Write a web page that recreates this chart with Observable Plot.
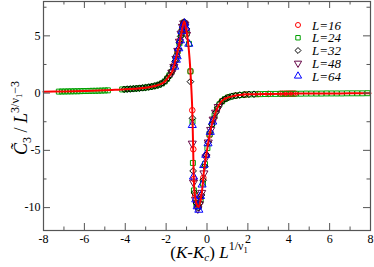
<!DOCTYPE html>
<html><head><meta charset="utf-8">
<script src="https://cdn.jsdelivr.net/npm/d3@7"></script>
<script src="https://cdn.jsdelivr.net/npm/@observablehq/plot@0.6"></script>
<style>body{margin:0;background:#fff}</style>
</head><body><div id="chart"></div>
<script>
// ---- tick values ----
const xTicks = [-8,-6,-4,-2,0,2,4,6,8];
const xMinor = [-7,-5,-3,-1,1,3,5,7];
const yTicks = [-10,-5,0,5];
const yMinor = [-7.5,-2.5,2.5,7.5];

// ---- series labels ----
const seriesLabels = ["L=16","L=24","L=32","L=48","L=64"];

// ---- fit curve (red line) ----
const fit = [[-8,0.11],[-7,0.15],[-6,0.19],[-5,0.25],[-4.5,0.29],[-4,0.33],[-3.5,0.39],[-3,0.47],[-2.75,0.55],[-2.5,0.64],[-2.25,0.8],[-2.1,0.95],[-1.95,1.25],[-1.85,1.5],[-1.75,1.72],[-1.7,1.9],[-1.6,2.45],[-1.54,2.9],[-1.46,3.5],[-1.38,4.1],[-1.3,4.8],[-1.24,5.35],[-1.18,5.9],[-1.13,6.25],[-1.08,6.1],[-1.02,5.6],[-0.97,5.0],[-0.89,3.8],[-0.81,1.9],[-0.76,0.2],[-0.72,-1.5],[-0.68,-4.5],[-0.65,-7.3],[-0.6,-8.8],[-0.54,-9.5],[-0.47,-9.85],[-0.42,-9.95],[-0.36,-9.7],[-0.3,-9.2],[-0.24,-8.5],[-0.16,-7.0],[-0.08,-5.9],[0,-5.0],[0.08,-4.1],[0.17,-3.25],[0.28,-2.5],[0.4,-1.8],[0.5,-1.35],[0.6,-1.0],[0.7,-0.75],[0.8,-0.58],[1.0,-0.4],[1.3,-0.25],[1.6,-0.17],[2,-0.11],[3,-0.07],[4,-0.05],[5,-0.04],[6,-0.03],[7,-0.02],[8,-0.01]];

// ---- data series ----
const L16 = [[-1.95,1.3],[-1.75,1.85],[-1.6,2.5],[-1.45,3.55],[-1.33,4.6],[-1.22,5.6],[-1.13,6.2],[-1.0,5.4],[-0.81,1.9],[-0.72,-1.5],[-0.67,-4.9],[-0.64,-7.5],[-0.58,-8.9],[-0.45,-9.8],[-0.3,-9.1],[-0.18,-7.4],[-0.04,-5.4],[0.12,-3.7],[0.3,-2.4],[0.5,-1.4],[0.72,-0.7],[1.0,-0.4],[1.4,-0.22],[1.9,-0.12],[2.5,-0.08],[3.0,-0.07],[3.6,-0.06],[3.7,-0.06],[3.8,-0.06],[3.9,-0.05],[4.0,-0.05],[4.1,-0.05],[4.2,-0.05],[4.3,-0.05]];
const L24 = [[-7.25,0.13],[-7.1,0.14],[-6.95,0.14],[-6.8,0.15],[-6.65,0.15],[-6.5,0.16],[-6.35,0.16],[-6.2,0.17],[-6.05,0.18],[-5.9,0.18],[-5.75,0.19],[-5.6,0.2],[-5.45,0.2],[-5.3,0.21],[-5.15,0.22],[-5.0,0.23],[-4.85,0.24],
[-4.15,0.32],[-4.0,0.33],[-3.85,0.35],[-3.7,0.37],[-3.55,0.39],[-3.4,0.41],[-3.25,0.44],[-3.1,0.46],[-2.95,0.5],[-2.8,0.54],[-2.65,0.59],[-2.5,0.65],[-2.35,0.73],[-2.2,0.85],[-2.07,1.02],[-1.95,1.26],[-1.84,1.55],[-1.73,1.85],[-1.63,2.3],[-1.53,2.95],[-1.44,3.65],[-1.35,4.35],[-1.27,5.1],[-1.2,5.75],[-1.14,6.15],[-1.07,6.0],[-0.99,5.2],[-0.88,4.3],[-0.81,1.9],[-0.71,-2.5],[-0.69,-6.1],[-0.64,-8.5],[-0.53,-9.6],[-0.41,-9.9],[-0.31,-9.3],[-0.2,-7.9],[-0.1,-6.2],[0.02,-4.8],[0.13,-3.6],[0.25,-2.7],[0.37,-1.95],[0.49,-1.4],[0.61,-0.98],[0.74,-0.72],[0.88,-0.52],[1.03,-0.38],[1.2,-0.29],[1.4,-0.22],[1.62,-0.17],[1.85,-0.13],[2.1,-0.11],[2.35,-0.1],[2.6,-0.09],[2.85,-0.08],[3.1,-0.07],[3.35,-0.07],[3.6,-0.06],[3.85,-0.06],[4.1,-0.05],[4.35,-0.05],[4.6,-0.05],[4.85,-0.04],[5.1,-0.04],[5.35,-0.04],[5.6,-0.04],[5.85,-0.03],[6.1,-0.03],[6.35,-0.03],[6.6,-0.03],[6.85,-0.02],[7.1,-0.02],[7.35,-0.02],[7.6,-0.02],[7.85,-0.01]];
const L32 = [[-4.05,0.33],[-3.9,0.35],[-3.75,0.36],[-3.6,0.38],[-3.45,0.41],[-3.3,0.43],[-3.15,0.46],[-3.0,0.49],[-2.85,0.53],[-2.7,0.57],[-2.55,0.63],[-2.4,0.7],[-2.27,0.79],[-2.15,0.9],[-2.03,1.08],[-1.92,1.33],[-1.82,1.58],[-1.72,1.92],[-1.64,2.3],[-1.56,2.78],[-1.49,3.3],[-1.42,3.82],[-1.35,4.4],[-1.29,4.95],[-1.23,5.5],[-1.17,6.0],[-1.12,6.2],[-1.06,6.0],[-1.0,5.6],[-0.81,1.0],[-0.71,-2.2],[-0.68,-6.8],[-0.62,-8.7],[-0.52,-9.6],[-0.43,-10.0],[-0.35,-9.6],[-0.27,-8.9],[-0.19,-7.6],[-0.11,-6.4],[-0.03,-5.4],[0.06,-4.3],[0.15,-3.4],[0.24,-2.75],[0.33,-2.2],[0.43,-1.7],[0.53,-1.28],[0.64,-0.92],[0.76,-0.66],[0.9,-0.5],[1.05,-0.37],[1.22,-0.28],[1.4,-0.22],[1.6,-0.17],[1.82,-0.14],[2.05,-0.11],[2.3,-0.1]];
const L48 = [[-1.72,1.8],[-1.62,2.3],[-1.52,3.0],[-1.43,3.7],[-1.35,4.5],[-1.27,5.2],[-1.2,5.8],[-1.14,6.1],[-1.08,6.0],[-1.0,5.1],[-0.72,-4.4],[-0.66,-7.8],[-0.56,-9.3],[-0.45,-10.1],[-0.37,-9.7],[-0.26,-8.7],[-0.15,-7.0],[-0.05,-5.6],[0.06,-4.3],[0.18,-3.2],[0.3,-2.3],[0.42,-1.7],[0.55,-1.2]];
const L64 = [[-1.58,2.3],[-1.5,2.9],[-1.46,3.2],[-1.38,3.9],[-1.3,4.6],[-1.22,5.4],[-1.16,5.9],[-1.1,6.1],[-1.04,5.7],[-0.89,4.3],[-0.72,-2.8],[-0.66,-7.3],[-0.55,-9.3],[-0.48,-9.9],[-0.4,-10.2],[-0.32,-9.0],[-0.24,-8.0],[-0.16,-6.3],[-0.06,-5.4],[0.05,-4.4],[0.16,-3.4],[0.28,-2.5]];

// ---- styles ----
const colors = ["#ff0000","#00a000","#000000","#670748","#0000ff"];
const symbols = ["circle","square","diamond2","triangle","triangle"];
const rotations = [0,0,0,180,0];
const radii = [2.8,2.8,3,3,3];
const series = [L16,L24,L32,L48,L64];
const axisColor = "#555";
const W = 374, H = 267, mL = 43, mR = 4, mT = 1, mB = 37;
const innerH = H - mT - mB, innerW = W - mL - mR;

const marks = [];
series.forEach((s, i) => {
  marks.push(Plot.dot(s, {x: d => d[0], y: d => d[1], symbol: symbols[i], r: radii[i], rotate: rotations[i], stroke: colors[i], fill: "none", strokeWidth: 1}));
});
marks.push(Plot.line(fit, {x: d => d[0], y: d => d[1], stroke: "#ff0000", strokeWidth: 2, curve: "monotone-x"}));
// inward ticks (bottom/top, left/right)
marks.push(Plot.ruleX(xTicks, {x: d => d, insetTop: innerH - 7, stroke: axisColor}));
marks.push(Plot.ruleX(xTicks, {x: d => d, insetBottom: innerH - 7, stroke: axisColor}));
marks.push(Plot.ruleX(xMinor, {x: d => d, insetTop: innerH - 3.5, stroke: axisColor}));
marks.push(Plot.ruleX(xMinor, {x: d => d, insetBottom: innerH - 3.5, stroke: axisColor}));
marks.push(Plot.ruleY(yTicks, {y: d => d, insetRight: innerW - 7, stroke: axisColor}));
marks.push(Plot.ruleY(yTicks, {y: d => d, insetLeft: innerW - 7, stroke: axisColor}));
marks.push(Plot.ruleY(yMinor, {y: d => d, insetRight: innerW - 3.5, stroke: axisColor}));
marks.push(Plot.ruleY(yMinor, {y: d => d, insetLeft: innerW - 3.5, stroke: axisColor}));
marks.push(Plot.frame({stroke: axisColor, strokeWidth: 1.2}));
marks.push(Plot.axisX(xTicks, {tickSize: 0, tickPadding: 4, tickFormat: d => String(d), label: null, fontSize: 12}));
marks.push(Plot.axisY(yTicks, {tickSize: 0, tickPadding: 3, tickFormat: d => String(d), label: null, fontSize: 12}));

const chart = Plot.plot({
  width: W, height: H,
  marginLeft: mL, marginRight: mR, marginTop: mT, marginBottom: mB,
  x: {domain: [-8, 8]},
  y: {domain: [-12, 8]},
  style: {fontFamily: "Liberation Serif", fontSize: "12px", background: "#fff", color: "#000"},
  marks
});
document.getElementById("chart").appendChild(chart);

const svg = d3.select(chart);
const font = "Liberation Serif";

// y label (rotated), centred by measuring
const yl = svg.append("text").attr("text-anchor", "start")
  .style("text-anchor", "start").style("font-family", font).style("font-size", "18px").attr("fill", "#000");
yl.append("tspan").style("font-style", "italic").text("C\u0303");
yl.append("tspan").attr("dy", 4).style("font-size", "12px").text("3");
yl.append("tspan").attr("dy", -4).text(" / ");
yl.append("tspan").style("font-style", "italic").text("L");
yl.append("tspan").attr("dy", -8).style("font-size", "12px").text("3/\u03bd");
yl.append("tspan").attr("dy", 3).style("font-size", "8.5px").text("1");
yl.append("tspan").attr("dy", -3).style("font-size", "12px").text("\u22123");
const ylLen = yl.node().getBBox().width;
yl.attr("transform", `translate(27,${118 + ylLen / 2}) rotate(-90)`);

// x label, centred by measuring
const xl = svg.append("text").attr("text-anchor", "start").style("text-anchor", "start")
  .style("font-family", font).style("font-size", "17px").attr("fill", "#000");
xl.append("tspan").text("(");
xl.append("tspan").style("font-style", "italic").text("K");
xl.append("tspan").text("-");
xl.append("tspan").style("font-style", "italic").text("K");
xl.append("tspan").attr("dy", 3).style("font-size", "11px").style("font-style", "italic").text("c");
xl.append("tspan").attr("dy", -3).text(") ");
xl.append("tspan").style("font-style", "italic").text("L");
xl.append("tspan").attr("dy", -8).style("font-size", "12px").text("1/\u03bd");
xl.append("tspan").attr("dy", 3).style("font-size", "8.5px").text("1");
const xlLen = xl.node().getBBox().width;
xl.attr("transform", `translate(${209 - xlLen / 2},258)`);

// legend
const symMap = {circle: d3.symbolCircle, square: d3.symbolSquare, diamond2: d3.symbolDiamond2, triangle: d3.symbolTriangle};
seriesLabels.forEach((lab, i) => {
  const cy = 25 + 12.75 * i;
  const g = svg.append("g").attr("transform", `translate(298,${cy})`);
  g.append("path")
    .attr("d", d3.symbol(symMap[symbols[i]], Math.PI * radii[i] * radii[i] * 0.8)())
    .attr("transform", `rotate(${rotations[i]})`)
    .attr("fill", "none").attr("stroke", colors[i]).attr("stroke-width", 1);
  svg.append("text").attr("x", 312).attr("y", cy + 4.5)
    .attr("text-anchor", "start").style("text-anchor", "start")
    .style("font-family", font).style("font-size", "13px").style("font-style", "italic")
    .attr("fill", "#000").text(lab);
});
</script>
</body></html>
